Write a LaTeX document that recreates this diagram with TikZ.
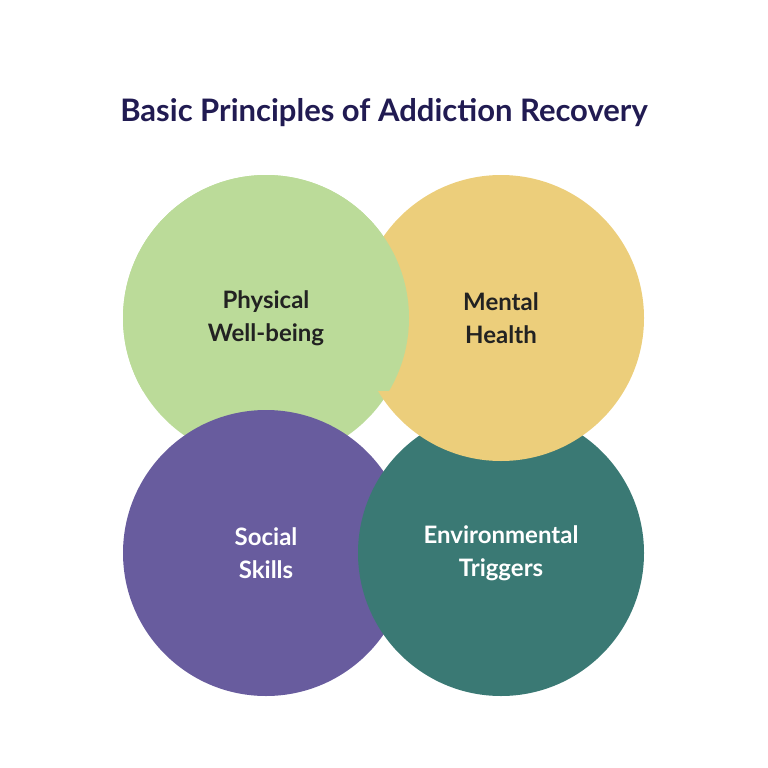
\documentclass[tikz,border=0pt]{standalone}
\usepackage{fontspec}
\setmainfont{Lato}
\definecolor{titlenavy}{RGB}{33,27,82}
\definecolor{physgreen}{RGB}{187,219,153}
\definecolor{mentyellow}{RGB}{236,206,123}
\definecolor{socpurple}{RGB}{104,92,158}
\definecolor{envteal}{RGB}{58,121,116}
\definecolor{darktext}{RGB}{34,34,34}

\begin{document}
\begin{tikzpicture}[
                x=1pt, y=-1pt,
                bubble/.style={shape=circle, minimum size=286pt, inner sep=0pt, draw=none, align=center, font=\bfseries\fontsize{24}{33}\selectfont},
                darklabel/.style={text=darktext},
                lightlabel/.style={text=white}
            ]
                % Frame
                \useasboundingbox (0,0) rectangle (768,768);

                % Title
                \node[text=titlenavy, font=\bfseries\fontsize{31}{36}\selectfont] (title) at (384,113) {Basic Principles of Addiction Recovery};

                % Circles
                \node[bubble, fill=physgreen, darklabel] (phys) at (266,318) {};
                \node[bubble, fill=socpurple, lightlabel] (soc) at (266,553) {};
                \node[bubble, fill=envteal, lightlabel] (env) at (501,553) {};
                \node[bubble, fill=mentyellow, darklabel] (ment) at (501,318) {};
                \begin{scope}
                    \clip (0,0) rectangle (768,390);
                    \fill[physgreen] (phys) circle (143);
                \end{scope}

                % Labels
                \node[bubble, darklabel, fill=none] at (phys) {Physical\\Well-being};
                \node[bubble, darklabel, fill=none] at (ment) {Mental\\Health};
                \node[bubble, lightlabel, fill=none] at (soc) {Social\\Skills};
                \node[bubble, lightlabel, fill=none] at (env) {Environmental\\Triggers};
            \end{tikzpicture}
\end{document}
